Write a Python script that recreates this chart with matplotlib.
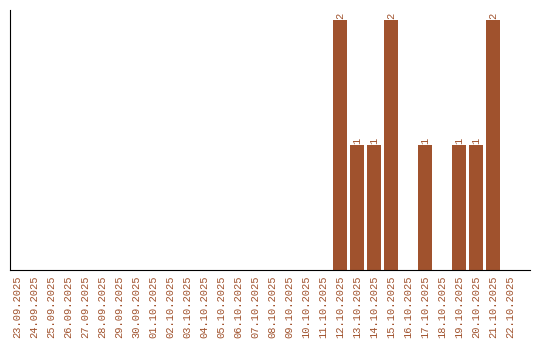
import matplotlib
matplotlib.use("Agg")
import matplotlib.pyplot as plt

dates = ["23.09.2025", "24.09.2025", "25.09.2025", "26.09.2025", "27.09.2025",
         "28.09.2025", "29.09.2025", "30.09.2025", "01.10.2025", "02.10.2025",
         "03.10.2025", "04.10.2025", "05.10.2025", "06.10.2025", "07.10.2025",
         "08.10.2025", "09.10.2025", "10.10.2025", "11.10.2025", "12.10.2025",
         "13.10.2025", "14.10.2025", "15.10.2025", "16.10.2025", "17.10.2025",
         "18.10.2025", "19.10.2025", "20.10.2025", "21.10.2025", "22.10.2025"]
counts = [0, 0, 0, 0, 0, 0, 0, 0, 0, 0,
          0, 0, 0, 0, 0, 0, 0, 0, 0, 2,
          1, 1, 2, 0, 1, 0, 1, 1, 2, 0]

color = "#A0522D"
font = ["Liberation Mono", "DejaVu Sans Mono"]
fig = plt.figure(figsize=(5.4, 3.4), dpi=100)
ax = fig.add_axes([10/540, 70/340, 520/540, 260/340])
x = list(range(len(dates)))
ax.bar(x, counts, width=0.82, color=color)
for xi, v in zip(x, counts):
    if v > 0:
        ax.text(xi, v + 0.01, str(v), rotation=90, ha="center", va="bottom",
                color=color, fontsize=7.5, family=font)
ax.set_xticks(x)
ax.set_xticklabels(dates, rotation=90, fontsize=7.5, family=font, color=color)
ax.tick_params(axis="x", length=0, pad=4)
ax.set_yticks([])
ax.set_xlim(-0.41, 30.18)
ax.set_ylim(0, 2.08)
ax.spines["top"].set_visible(False)
ax.spines["right"].set_visible(False)
fig.savefig("out.png", dpi=100)
